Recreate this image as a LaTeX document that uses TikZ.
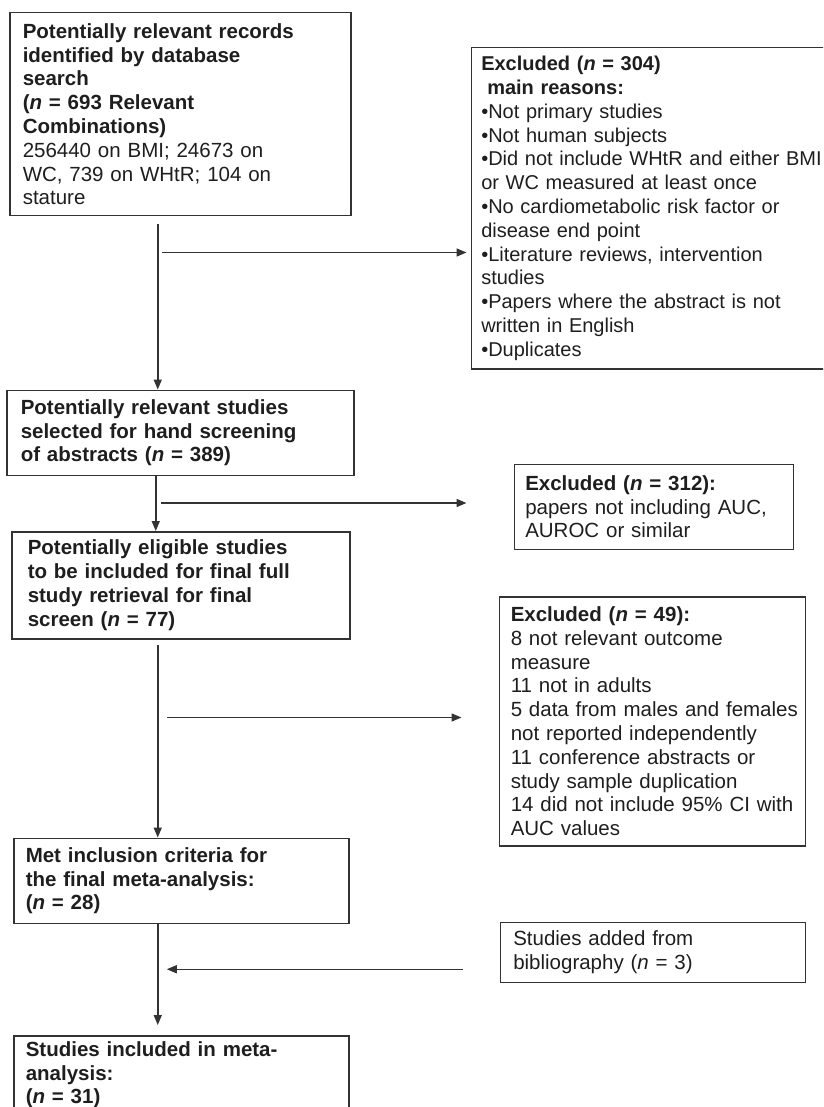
\documentclass[tikz,border=0pt]{standalone}
\usepackage{fontspec}
\setmainfont{Liberation Sans}
\usetikzlibrary{positioning}
\usetikzlibrary{arrows.meta}
\definecolor{linegray}{HTML}{333333}
\definecolor{textgray}{HTML}{1E1E1E}
\newcommand{\boxfont}{\fontsize{20.5}{23.8}\selectfont}

\begin{document}
\begin{tikzpicture}[
  x=1pt, y=-1pt,
  box/.style={draw=linegray, line width=1.5pt, align=left, inner ysep=2pt, text=textgray, font=\boxfont},
  arrow/.style={-{Triangle[length=10pt, width=8pt]}, line width=1.5pt, draw=linegray}
]
\useasboundingbox (0,0) rectangle (823,1107);
\clip (0,0) rectangle (823,1107);

% main path
\node[box, anchor=north west, inner xsep=13pt, text width=315pt, minimum height=203pt] (records) at (9,12)
  {\textbf{Potentially relevant records}\\\textbf{identified by database}\\\textbf{search}\\\textbf{(\textit{n} = 693 Relevant}\\\textbf{Combinations)}\\256440 on BMI; 24673 on\\WC, 739 on WHtR; 104 on\\stature};
\node[box, below right=173pt and -3pt of records.south west, inner xsep=14pt, text width=319pt, minimum height=85pt] (selected)
  {\textbf{Potentially relevant studies}\\\textbf{selected for hand screening}\\\textbf{of abstracts (\textit{n} = 389)}};
\node[box, below right=55pt and 5pt of selected.south west, inner xsep=16pt, text width=306pt, minimum height=107pt] (eligible)
  {\textbf{Potentially eligible studies}\\\textbf{to be included for final full}\\\textbf{study retrieval for final}\\\textbf{screen (\textit{n} = 77)}};
\node[box, below right=198pt and 2pt of eligible.south west, inner xsep=12pt, text width=311pt, minimum height=85pt] (met)
  {\textbf{Met inclusion criteria for}\\\textbf{the final meta-analysis:}\\\textbf{(\textit{n} = 28)}};
\node[box, below right=111pt and 0pt of met.south west, inner xsep=12pt, text width=311pt, minimum height=78pt] (included)
  {\textbf{Studies included in meta-}\\\textbf{analysis:}\\\textbf{(\textit{n} = 31)}};

% side boxes
\node[box, below right=35pt and 119pt of records.north east, inner xsep=10pt, text width=355pt, minimum height=321pt, font=\fontsize{20}{23.8}\selectfont] (excl1)
  {\textbf{Excluded (\textit{n} = 304)}\\\hspace*{6pt}\textbf{main reasons:}\\•Not primary studies\\•Not human subjects\\•Did not include WHtR and either BMI\\or WC measured at least once\\•No cardiometabolic risk factor or\\disease end point\\•Literature reviews, intervention\\studies\\•Papers where the abstract is not\\written in English\\•Duplicates};
\node[box, below right=74pt and 159pt of selected.north east, inner xsep=11pt, text width=257pt, minimum height=85pt] (excl2)
  {\textbf{Excluded (\textit{n} = 312):}\\papers not including AUC,\\AUROC or similar};
\node[box, below right=65pt and 148pt of eligible.north east, inner xsep=11.5pt, text width=283pt, minimum height=249pt] (excl3)
  {\textbf{Excluded (\textit{n} = 49):}\\8 not relevant outcome\\measure\\11 not in adults\\\mbox{5 data from males and females}\\not reported independently\\11 conference abstracts or\\study sample duplication\\14 did not include 95\% CI with\\AUC values};
\node[box, below right=84pt and 150pt of met.north east, inner xsep=13pt, text width=279pt, minimum height=60pt] (added)
  {Studies added from\\bibliography (\textit{n} = 3)};

\coordinate (s1) at ([xshift=-22.5pt, yshift=-8pt]records.south);
\coordinate (j1) at ([xshift=4pt, yshift=-28pt]s1);
\coordinate (s2) at ([xshift=-24.5pt]selected.south);
\coordinate (j2) at ([xshift=5pt, yshift=-27pt]s2);
\coordinate (s3) at ([xshift=-23pt, yshift=-5pt]eligible.south);
\coordinate (j3) at ([xshift=9pt, yshift=-73pt]s3);
\coordinate (s4) at ([xshift=-23.5pt]met.south);
\coordinate (a4) at ([xshift=-37pt, yshift=-17pt]added.west);

\draw[arrow] (s1) -- (s1 |- selected.north);
\draw[arrow] (j1) -- ([xshift=-4pt]j1 -| excl1.west);
\draw[arrow] (s2) -- (s2 |- eligible.north);
\draw[arrow] (j2) -- ([xshift=-47pt]j2 -| excl2.west);
\draw[arrow] (s3) -- (s3 |- met.north);
\draw[arrow] (j3) -- ([xshift=-37pt]j3 -| excl3.west);
\draw[arrow] (s4) -- ([yshift=10pt]s4 |- included.north);
\draw[arrow] (a4) -- ([xshift=9pt]a4 -| s4);

\end{tikzpicture}
\end{document}
